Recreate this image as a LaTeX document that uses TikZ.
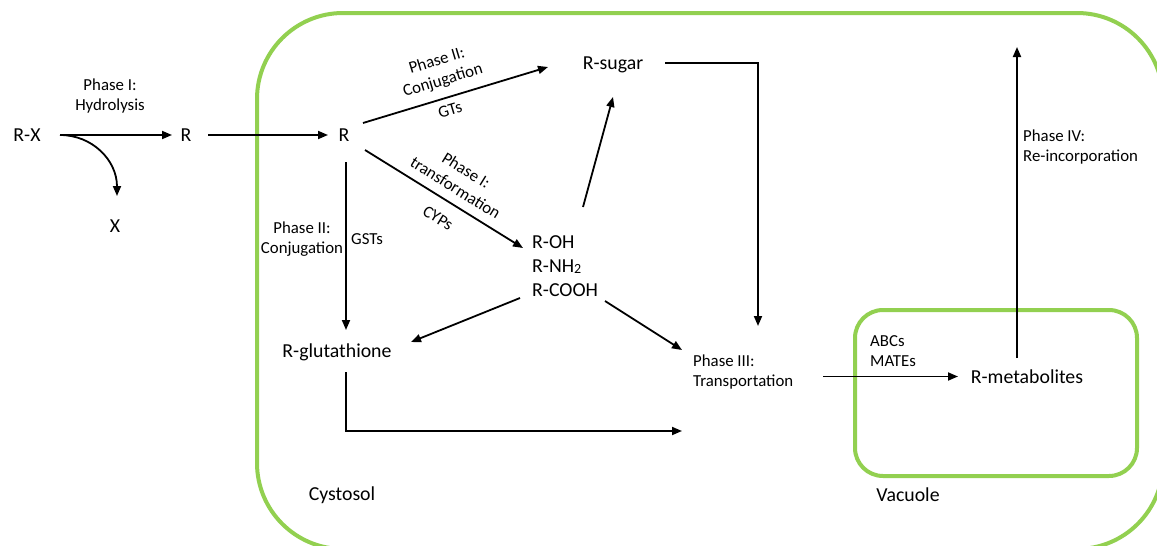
\documentclass[tikz,border=0pt]{standalone}
\usepackage{fontspec}
\setmainfont{Carlito}
\usetikzlibrary{arrows.meta}
\definecolor{leaf}{HTML}{92D050}
\begin{document}
\begin{tikzpicture}[x=1pt,y=-1pt,
  main/.style={font=\fontsize{19.8pt}{24pt}\selectfont, inner sep=0pt},
  lbl/.style={font=\fontsize{16.8pt}{20.5pt}\selectfont, inner sep=0pt},
  arr/.style={draw=black, line width=1.8pt, -{Triangle[length=10pt,width=8pt]}},
  wall/.style={draw=leaf, line width=4pt}]
\useasboundingbox (0,0) rectangle (1157,546);
% compartments
\begin{scope}
  \clip (0,0) rectangle (1157,546);
  \draw[wall, rounded corners=86pt] (257,13) rectangle (1163,549);
\end{scope}
\draw[wall, rounded corners=28pt] (855,310) rectangle (1137,476);
% nodes
\node[main] (rx) at (27,135) {R-X};
\node[main] (x) at (115,226) {X};
\node[main] (r1) at (186,135) {R};
\node[main] (r2) at (344,135) {R};
\node[lbl, align=center] (hyd) at (110,96) {Phase I:\\Hydrolysis};
\node[main] (sugar) at (613,65) {R-sugar};
\node[main, align=left, anchor=west] (oh) at (532,266) {R-OH\\R-NH{\fontsize{14pt}{14pt}\selectfont\raisebox{-1pt}{2}}\\R-COOH};
\node[main] (glu) at (337,352) {R-glutathione};
\node[lbl, align=left, anchor=west] (p3) at (693,372) {Phase III:\\Transportation};
\node[lbl, align=left, anchor=west] (abc) at (870,351) {ABCs\\MATEs};
\node[main] (met) at (1027,377) {R-metabolites};
\node[lbl, align=left, anchor=west] (p4) at (1023,147) {Phase IV:\\Re-incorporation};
\node[main] (cyt) at (342,495) {Cystosol};
\node[main] (vac) at (908,495) {Vacuole};
% arrow labels
\node[lbl, align=center, rotate=16.8] (conj) at (440,71) {Phase II:\\Conjugation};
\node[lbl, rotate=16.8] (gts) at (450,110) {GTs};
\node[lbl, align=center, rotate=-31.8] (trans) at (461,179) {Phase I:\\transformation};
\node[lbl, rotate=-31.8] (cyps) at (438,218) {CYPs};
\node[lbl, align=center] (conj2) at (302,239) {Phase II:\\Conjugation};
\node[lbl] (gsts) at (367,239) {GSTs};
% connector end points
\coordinate (rxo) at (60,135);
\coordinate (r1i) at (172,135);
\coordinate (r1o) at (208,135);
\coordinate (r2i) at (328,135);
\coordinate (xi) at (117,196);
\coordinate (r2s) at (363,123);
\coordinate (sugi) at (548,67);
\coordinate (r2t) at (365,150);
\coordinate (ohi) at (523,248);
\coordinate (r2d) at (346,162);
\coordinate (glui) at (346,330);
\coordinate (ohu) at (583,207);
\coordinate (sugb) at (613,97);
\coordinate (sugo) at (665,63);
\coordinate (p3t) at (758,326);
\coordinate (cool) at (520,298);
\coordinate (gluin) at (411,342);
\coordinate (coor) at (605,301);
\coordinate (p3l) at (682,350);
\coordinate (glub) at (346,372);
\coordinate (p3b) at (682,431);
\coordinate (p3o) at (823,376.5);
\coordinate (meti) at (958,376.5);
\coordinate (metu) at (1017,358);
\coordinate (out) at (1017,47);
% connectors
\draw[arr] (rxo) -- (r1i);
\draw[arr] (rxo) .. controls (92,135) and (117,160) .. (xi);
\draw[arr] (r1o) -- (r2i);
\draw[arr] (r2s) -- (sugi);
\draw[arr] (r2t) -- (ohi);
\draw[arr] (r2d) -- (glui);
\draw[arr] (ohu) -- (sugb);
\draw[arr] (sugo) -| (p3t);
\draw[arr] (cool) -- (gluin);
\draw[arr] (coor) -- (p3l);
\draw[arr] (glub) |- (p3b);
\draw[arr] (p3o) -- (meti);
\draw[arr] (metu) -- (out);
\end{tikzpicture}
\end{document}
